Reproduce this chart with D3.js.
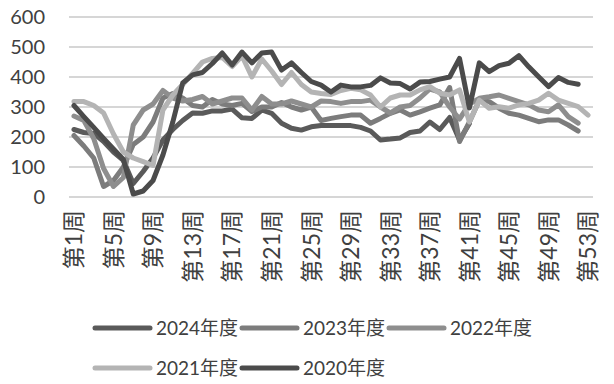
<!DOCTYPE html>
<html><head><meta charset="utf-8">
<script src="https://cdn.jsdelivr.net/npm/d3@7"></script>
<style>
html,body{margin:0;padding:0;background:#fff;}
svg{display:block;font-family:Lato,"Noto Sans CJK SC",sans-serif;}
</style></head>
<body><svg id="c" width="614" height="384"></svg>
<script>
const weeks = d3.range(1, 54).map(w => "第" + w + "周");
const tickWeeks = [1,5,9,13,17,21,25,29,33,37,41,45,49,53];
const yTicks = [0,100,200,300,400,500,600];
const seriesNames = ["2024年度","2023年度","2022年度","2021年度","2020年度"];
const seriesColors = ["#5a5a5a","#7c7c7c","#8e8e8e","#b4b4b4","#4b4b4b"];

const y2024 = [225,215,212,185,150,122,45,85,130,190,225,255,280,279,287,287,293,264,262,290,279,246,229,223,234,238,238,238,238,232,220,190,193,197,215,220,250,225,265,190,245];
const y2023 = [205,170,130,35,55,100,175,200,250,330,345,330,305,300,325,310,305,312,285,300,300,315,300,290,300,255,262,268,273,273,246,262,279,290,273,284,296,307,365,185,250,323,318,296,279,273,262,251,257,257,240,220];
const y2022 = [270,255,195,95,35,65,240,290,310,355,330,320,325,335,310,320,330,330,290,335,310,310,320,310,300,320,318,312,318,318,323,300,280,300,305,330,360,350,300,260,310,329,334,340,329,318,307,290,284,307,268,246];
const y2021 = [318,318,305,280,210,150,130,118,105,290,340,375,412,450,462,465,435,470,400,460,420,375,415,375,350,345,342,355,362,357,340,300,330,340,340,357,368,346,340,357,250,323,296,301,296,307,312,323,346,323,312,301,273];
const y2020 = [305,268,232,195,160,125,10,20,55,140,250,380,407,415,445,480,440,483,447,480,483,423,447,415,385,373,350,373,367,367,372,397,380,378,360,383,385,393,400,462,297,447,418,438,446,471,434,401,368,398,382,376];
const seriesData = [y2024,y2023,y2022,y2021,y2020];

const svg = d3.select("#c");
const pLeft = 69, pRight = 593, pTop = 17, pBottom = 197;
const x = d3.scalePoint().domain(weeks).range([pLeft, pRight]).padding(0.5);
const y = d3.scaleLinear().domain([0,600]).range([pBottom, pTop]);

// gridlines
svg.append("g").selectAll("line").data(yTicks).join("line")
  .attr("x1", pLeft).attr("x2", pRight)
  .attr("y1", d => y(d)).attr("y2", d => y(d))
  .attr("stroke", "#c8c8c8").attr("stroke-width", 1.5);

// y labels
const yAxis = d3.axisLeft(y).tickValues(yTicks).tickSize(0).tickPadding(0);
const ya = svg.append("g").attr("transform", "translate(45,0)").call(yAxis);
ya.select(".domain").remove();
ya.selectAll("text").attr("font-size", 20).attr("fill", "#404040")
  .attr("font-family", "Lato,'Noto Sans CJK SC',sans-serif");

// x labels
svg.append("g").selectAll("text").data(tickWeeks).join("text")
  .attr("transform", d => `translate(${x(weeks[d-1])},210) rotate(-90)`)
  .attr("text-anchor", "end").attr("dy", "0.36em")
  .attr("font-size", 23).attr("fill", "#404040")
  .text(d => weeks[d-1]);

// lines
const line = d3.line().x((d,i) => x(weeks[i])).y(d => y(d));
svg.append("g").selectAll("path").data(seriesData).join("path")
  .attr("d", d => line(d))
  .attr("fill", "none")
  .attr("stroke", (d,i) => seriesColors[i])
  .attr("stroke-width", 5)
  .attr("stroke-linejoin", "round")
  .attr("stroke-linecap", "round");

// legend
const legPos = [[93,328],[240,328],[387,328],[93,368],[240,368]];
const lg = svg.append("g").selectAll("g").data(seriesNames).join("g")
  .attr("transform", (d,i) => `translate(${legPos[i][0]},${legPos[i][1]})`);
lg.append("line").attr("x1", 2).attr("x2", 57).attr("y1", 0).attr("y2", 0)
  .attr("stroke", (d,i) => seriesColors[i]).attr("stroke-width", 5).attr("stroke-linecap", "round");
lg.append("text").attr("x", 63).attr("y", 0).attr("dy", "0.36em")
  .attr("font-size", 19).attr("fill", "#404040").text(d => d);
</script></body></html>
